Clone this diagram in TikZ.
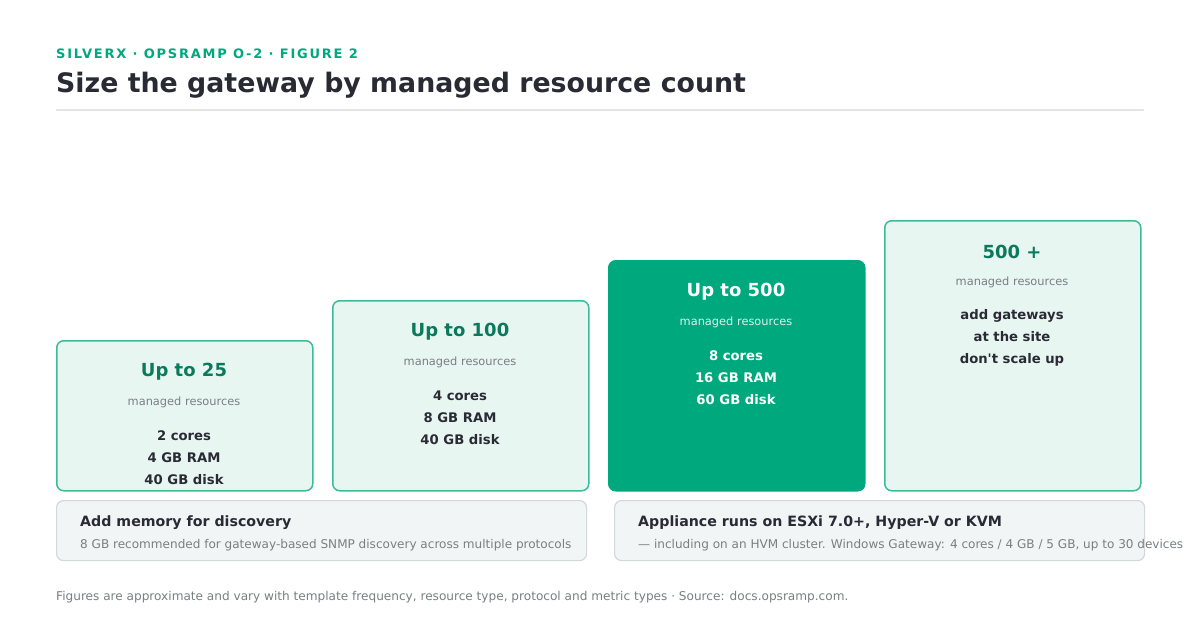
\documentclass[tikz,border=0pt]{standalone}
\usepackage{fontspec}
\setmainfont{DejaVu Sans}[Ligatures=TeXOff]
\usetikzlibrary{positioning}
\definecolor{accent}{HTML}{00A87E}
\definecolor{deepgreen}{HTML}{0B7A5C}
\definecolor{mint}{HTML}{E8F6F1}
\definecolor{mintline}{HTML}{3DBB97}
\definecolor{ink}{HTML}{2A2A35}
\definecolor{muted}{HTML}{7A7F82}
\definecolor{notefill}{HTML}{F1F5F5}
\definecolor{noteline}{HTML}{D3D9D9}
\definecolor{rulegray}{HTML}{E1E5E5}
\newcommand{\fsz}[1]{\fontsize{#1}{1.2\dimexpr#1pt\relax}\selectfont}
\begin{document}
\begin{tikzpicture}[x=1pt,y=-1pt,
    cool box/.style={draw=mintline,fill=mint,line width=1.5pt,rounded corners=7pt,minimum width=256pt,anchor=north west,inner sep=0pt},
    hot box/.style={draw=accent,fill=accent,line width=1.5pt,rounded corners=7pt,minimum width=256pt,anchor=north west,inner sep=0pt},
    cool title/.style={text=deepgreen,font=\bfseries\fsz{18}},
    hot title/.style={text=white,font=\bfseries\fsz{18}},
    cool sub/.style={text=muted,font=\fsz{11.4}},
    hot sub/.style={text=white!85!accent,font=\fsz{11.4}},
    cool spec/.style={text=ink,font=\bfseries\fontsize{13.2}{22}\selectfont,align=center},
    hot spec/.style={text=white,font=\bfseries\fontsize{13.2}{22}\selectfont,align=center},
    notebox/.style={draw=noteline,fill=notefill,line width=1.2pt,rounded corners=7pt,minimum width=530pt,minimum height=60pt,anchor=north west,inner sep=0pt},
    notehead/.style={text=ink,font=\bfseries\fsz{14.2},anchor=base west,inner sep=0pt},
    notetext/.style={text=muted,font=\fsz{12.05},anchor=base west,inner sep=0pt}]
\useasboundingbox[fill=white] (0,0) rectangle (1200,630);
% heading
\node[anchor=base west,inner sep=0pt,text=accent,font=\bfseries\fsz{13}\addfontfeature{LetterSpace=13.5}] (eyebrow) at (56,58) {SILVERX · OPSRAMP O-2 · FIGURE 2};
\node[anchor=base west,inner sep=0pt,text=ink,font=\bfseries\fsz{26.8}] (title) at (56,92) {Size the gateway by managed resource count};
\draw[rulegray,line width=2pt] (56,110) -- (1144,110);
% the four tiers, stepping up
\foreach \i/\lx/\ty/\kind/\head/\spec in {
    1/56/340/cool/Up to 25/2 cores\\4 GB RAM\\40 GB disk,
    2/332/300/cool/Up to 100/4 cores\\8 GB RAM\\40 GB disk,
    3/608/260/hot/Up to 500/8 cores\\16 GB RAM\\60 GB disk,
    4/884/220/cool/500 +/add gateways\\at the site\\don't scale up}{
  \pgfmathsetmacro{\hh}{490-\ty}
  \node[\kind\space box,minimum height=\hh pt] (tier\i) at (\lx,\ty) {};
  \node[\kind\space title] (tier\i head) at (\lx+128,\ty+32) {\head};
  \node[\kind\space sub] (tier\i sub) at (\lx+128,\ty+62) {managed resources};
  \node[\kind\space spec] (tier\i spec) at (\lx+128,\ty+118) {\spec};
}
% notes under the tiers
\node[notebox] (memnote) at (56,500) {};
\node[notehead] (memhead) at (80,526) {Add memory for discovery};
\node[notetext] (memtext) at (80,548) {8 GB recommended for gateway-based SNMP discovery across multiple protocols};
\node[notebox] (hostnote) at (614,500) {};
\node[notehead] (hosthead) at (638,526) {Appliance runs on ESXi 7.0+, Hyper-V or KVM};
\node[notetext] (hosttext) at (638,548) {— including on an HVM cluster. Windows Gateway: 4 cores / 4 GB / 5 GB, up to 30 devices};
% footer
\node[anchor=base west,inner sep=0pt,text=muted,font=\fsz{12.1}] (footer) at (56,600) {Figures are approximate and vary with template frequency, resource type, protocol and metric types · Source: docs.opsramp.com.};
\end{tikzpicture}
\end{document}
